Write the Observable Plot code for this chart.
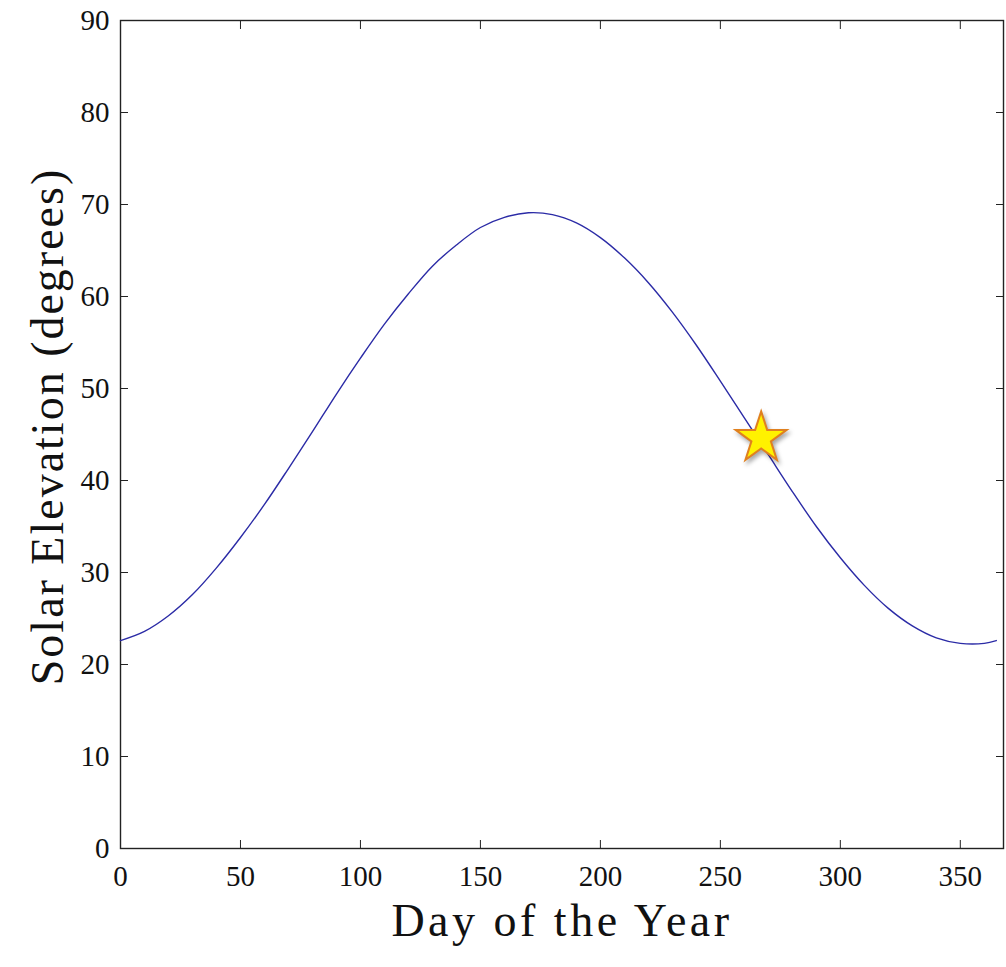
<!DOCTYPE html>
<html>
<head>
<meta charset="utf-8">
<script src="https://cdn.jsdelivr.net/npm/d3@7"></script>
<script src="https://cdn.jsdelivr.net/npm/@observablehq/plot@0.6"></script>
<style>
  html, body { margin: 0; padding: 0; background: #fff; }
  #chart svg { display: block; }
  #chart g[aria-label="dot"] { filter: drop-shadow(2px 3px 2px rgba(0,0,0,0.35)); }
  #chart .x-title { letter-spacing: 3.5px; }
  #chart .y-title { letter-spacing: 2px; }
</style>
</head>
<body>
<div id="chart"></div>
<script>
// Noon solar elevation over the year
const days = [0, 10, 20, 30, 40, 50, 60, 70, 80, 90, 100, 110, 120, 130, 140, 150, 160, 170, 180,
  190, 200, 210, 220, 230, 240, 250, 260, 270, 280, 290, 300, 310, 320, 330, 340, 350, 360, 365];
const elevation = [22.6, 23.6, 25.3, 27.6, 30.5, 33.8, 37.4, 41.3, 45.3, 49.4, 53.3, 57.0, 60.3, 63.3,
  65.6, 67.5, 68.6, 69.1, 68.9, 68.0, 66.4, 64.2, 61.5, 58.3, 54.7, 50.8, 46.8, 42.8, 38.8, 35.0,
  31.6, 28.6, 26.1, 24.2, 22.9, 22.3, 22.3, 22.6];

// Highlighted day (autumn equinox)
const markerDay = [267];
const markerElevation = [44.6];

const xTicks = [0, 50, 100, 150, 200, 250, 300, 350];
const yTicks = [0, 10, 20, 30, 40, 50, 60, 70, 80, 90];

const xLabel = "Day of the Year";
const yLabel = "Solar Elevation (degrees)";

const curve = days.map((d, i) => ({day: d, elev: elevation[i]}));
const marker = markerDay.map((d, i) => ({day: d, elev: markerElevation[i]}));

const font = "'Liberation Serif', 'Times New Roman', serif";
const axisColor = "#222";

const chart = Plot.plot({
  width: 1006,
  height: 967,
  marginLeft: 120,
  marginRight: 3,
  marginTop: 20,
  marginBottom: 119,
  style: {fontFamily: font, fontSize: "29px", color: "#111", background: "#fff"},
  x: {domain: [0, 368]},
  y: {domain: [0, 90]},
  marks: [
    Plot.frame({stroke: axisColor, strokeWidth: 1.4}),
    Plot.axisX({anchor: "bottom", ticks: xTicks, tickSize: -8, tickPadding: 25, label: null,
      stroke: axisColor, fill: "#111", tickFormat: d3.format("d")}),
    Plot.axisX({anchor: "top", ticks: xTicks, tickSize: -8, label: null,
      stroke: axisColor, tickFormat: () => ""}),
    Plot.axisY({anchor: "left", ticks: yTicks, tickSize: -8, tickPadding: 19, label: null,
      stroke: axisColor, fill: "#111", tickFormat: d3.format("d")}),
    Plot.axisY({anchor: "right", ticks: yTicks, tickSize: -8, label: null,
      stroke: axisColor, tickFormat: () => ""}),
    Plot.line(curve, {x: "day", y: "elev", stroke: "#2b2ba6", strokeWidth: 1.4, curve: "catmull-rom"}),
    Plot.dot(marker, {x: "day", y: "elev", symbol: "star", r: 16, fill: "#fff200",
      stroke: "#e0801f", strokeWidth: 2}),
    Plot.text([xLabel], {frameAnchor: "bottom", textAnchor: "middle", dy: 87, fontSize: 46,
      fill: "#111", className: "x-title"}),
    Plot.text([yLabel], {frameAnchor: "left", textAnchor: "middle", lineAnchor: "middle",
      rotate: -90, dx: -72, dy: -8, fontSize: 46, fill: "#111", className: "y-title"})
  ]
});

document.getElementById("chart").appendChild(chart);
</script>
</body>
</html>
